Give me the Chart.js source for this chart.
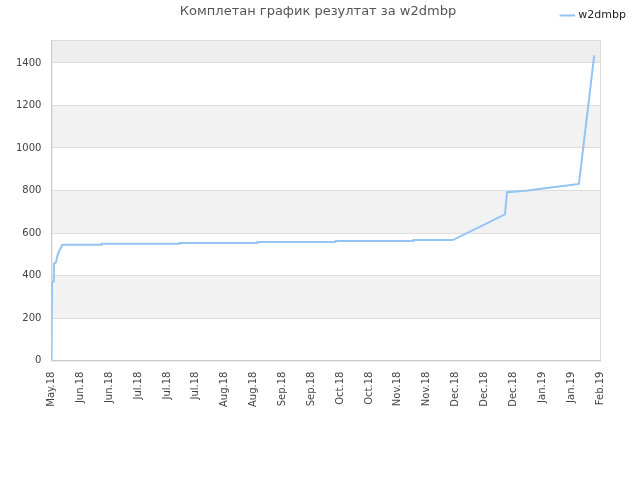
<!DOCTYPE html>
<html>
<head>
<meta charset="utf-8">
<script src="https://cdn.jsdelivr.net/npm/chart.js@4"></script>
<style>
    html, body { margin: 0; padding: 0; background: #fff; }
    #wrap { width: 640px; height: 480px; }
</style>
</head>
<body>
<div id="wrap"><canvas id="evoChart"></canvas></div>
<script>
const chartTitle = "Комплетан график резултат за w2dmbp";
const seriesName = "w2dmbp";
const tickLabels = ["May.18", "Jun.18", "Jun.18", "Jul.18", "Jul.18", "Jul.18", "Aug.18", "Aug.18", "Sep.18", "Sep.18",
    "Oct.18", "Oct.18", "Nov.18", "Nov.18", "Dec.18", "Dec.18", "Dec.18", "Jan.19", "Jan.19", "Feb.19"];
// x in tick-label units (0 = May.18 ... 19 = Feb.19)
const xValues = [0, 0.02, 0.08, 0.09, 0.16, 0.21, 0.28, 0.38, 1.73, 1.74, 4.43, 4.44, 7.13, 7.14, 9.83, 9.84,
    12.53, 12.54, 13.9, 15.71, 15.78, 16.5, 17.3, 18.0, 18.27, 18.8];
const yValues = [0, 369, 372, 456, 463, 495, 519, 545, 545, 549, 549, 553, 553, 558, 558, 562,
    562, 567, 567, 688, 792, 800, 814, 826, 831, 1436];
const yMax = 1508;

const bands = {
    id: "bands",
    beforeInit(chart) {
        // leave room between legend row and plot area
        const fit = chart.legend.fit;
        chart.legend.fit = function () {
            fit.call(this);
            this.height += 9;
        };
    },
    beforeDraw(chart) {
        const {ctx, chartArea, scales: {y}} = chart;
        ctx.save();
        for (let v = 0; v < yMax; v += 200) {
            const top = y.getPixelForValue(Math.min(v + 200, yMax));
            const bottom = y.getPixelForValue(v);
            if (v >= 1400) ctx.fillStyle = "#eeeeee";
            else ctx.fillStyle = (v / 200) % 2 === 1 ? "#f2f2f2" : "#ffffff";
            ctx.fillRect(chartArea.left, top, chartArea.right - chartArea.left, bottom - top);
        }
        ctx.strokeStyle = "#dddddd";
        ctx.lineWidth = 1;
        ctx.strokeRect(chartArea.left + 0.5, chartArea.top + 0.5, chartArea.right - chartArea.left, chartArea.bottom - chartArea.top);
        ctx.restore();
    },
    afterDraw(chart) {
        const ctx = chart.ctx;
        ctx.save();
        ctx.font = "13px 'DejaVu Sans'";
        ctx.fillStyle = "#555";
        ctx.textAlign = "center";
        ctx.textBaseline = "middle";
        ctx.fillText(chartTitle, 318, 12);
        ctx.restore();
    }
};

const ctx = document.getElementById("evoChart").getContext("2d");
new Chart(ctx, {
    type: "line",
    data: {
        datasets: [{
            label: seriesName,
            data: xValues.map((x, i) => ({x: x, y: yValues[i]})),
            borderColor: "#94c4f3",
            backgroundColor: "#94c4f3",
            borderWidth: 2,
            pointRadius: 0,
            tension: 0,
            fill: false
        }]
    },
    options: {
        responsive: true,
        maintainAspectRatio: false,
        animation: false,
        layout: { padding: { top: 0, right: 4, bottom: 70, left: 6 } },
        plugins: {
            legend: {
                position: "top",
                align: "end",
                labels: {
                    usePointStyle: true,
                    pointStyle: "line",
                    boxWidth: 12,
                    color: "#222",
                    font: { family: "DejaVu Sans", size: 11 },
                    padding: 10
                }
            },
            tooltip: { enabled: false }
        },
        scales: {
            x: {
                type: "linear",
                min: 0,
                max: 19,
                grid: { display: false },
                border: { color: "#cccccc" },
                afterFit: scale => { scale.paddingRight = 40; },
                ticks: {
                    stepSize: 1,
                    autoSkip: false,
                    maxRotation: 90,
                    minRotation: 90,
                    color: "#444",
                    font: { family: "DejaVu Sans", size: 10 },
                    callback: v => tickLabels[v] ?? ""
                }
            },
            y: {
                min: 0,
                max: yMax,
                grid: { color: "#dddddd", drawTicks: false },
                border: { color: "#cccccc" },
                ticks: {
                    stepSize: 200,
                    padding: 10,
                    color: "#444",
                    font: { family: "DejaVu Sans", size: 10 },
                    callback: v => (v % 200 === 0 ? v : "")
                }
            }
        }
    },
    plugins: [bands]
});
</script>
</body>
</html>
